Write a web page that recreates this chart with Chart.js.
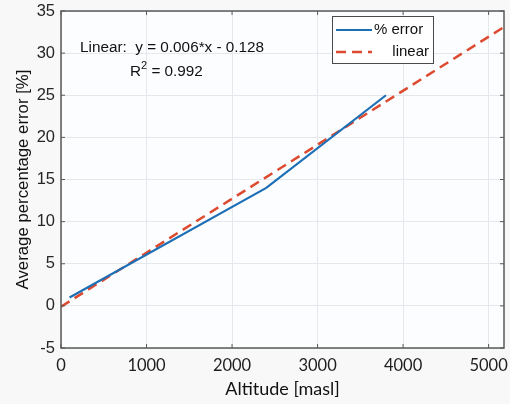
<!DOCTYPE html>
<html><head><meta charset="utf-8">
<script src="https://cdn.jsdelivr.net/npm/chart.js@4/dist/chart.umd.min.js"></script>
<style>
html,body{margin:0;padding:0;background:#f8f8f8;}
#wrap{width:510px;height:404px;}
</style></head>
<body><div id="wrap"><canvas id="c" width="510" height="404"></canvas></div>
<script>
// Data
const errorAltitude = [100, 2400, 3800];
const errorValues = [1, 14, 25];
const fitAltitude = [0, 5180];
const fitValues = [-0.1, 33.1];
const xTicks = [0, 1000, 2000, 3000, 4000, 5000];
const yTicks = [-5, 0, 5, 10, 15, 20, 25, 30, 35];
const seriesNames = ['% error', 'linear'];
const annotationLine1 = 'Linear:  y = 0.006*x - 0.128';
const annotationLine2 = ['R', '2', ' = 0.992'];

const BLUE = '#1c6fb5';
const RED = '#dc4a30';
const AXIS = '#5a5a5a';

const boxPlugin = {
  id: 'box',
  beforeDraw(chart) {
    const {ctx, chartArea: a} = chart;
    ctx.save();
    ctx.fillStyle = '#fcfdff';
    ctx.fillRect(a.left, a.top, a.right - a.left, a.bottom - a.top);
    ctx.restore();
  },
  afterDatasetsDraw(chart) {
    const {ctx, chartArea: a, scales} = chart;
    ctx.save();
    ctx.strokeStyle = AXIS;
    ctx.lineWidth = 1.5;
    ctx.strokeRect(a.left, a.top, a.right - a.left, a.bottom - a.top);
    ctx.lineWidth = 1;
    const tl = 4;
    xTicks.forEach(v => {
      const x = scales.x.getPixelForValue(v);
      ctx.beginPath();
      ctx.moveTo(x, a.bottom); ctx.lineTo(x, a.bottom - tl);
      ctx.moveTo(x, a.top); ctx.lineTo(x, a.top + tl);
      ctx.stroke();
    });
    yTicks.forEach(v => {
      const y = scales.y.getPixelForValue(v);
      ctx.beginPath();
      ctx.moveTo(a.left, y); ctx.lineTo(a.left + tl, y);
      ctx.moveTo(a.right, y); ctx.lineTo(a.right - tl, y);
      ctx.stroke();
    });
    // legend
    const lx = a.left + 271, ly = a.top + 5, lw = 101, lh = 47;
    ctx.fillStyle = '#ffffff';
    ctx.fillRect(lx, ly, lw, lh);
    ctx.strokeStyle = '#4a4a4a';
    ctx.lineWidth = 1;
    ctx.strokeRect(lx + 0.5, ly + 0.5, lw, lh);
    ctx.lineWidth = 2.2;
    ctx.strokeStyle = BLUE;
    ctx.beginPath(); ctx.moveTo(lx + 4, ly + 14); ctx.lineTo(lx + 40, ly + 14); ctx.stroke();
    ctx.strokeStyle = RED;
    ctx.lineWidth = 2.5;
    ctx.setLineDash([10, 6]);
    ctx.beginPath(); ctx.moveTo(lx + 4, ly + 36); ctx.lineTo(lx + 40, ly + 36); ctx.stroke();
    ctx.setLineDash([]);
    ctx.fillStyle = '#111';
    ctx.font = '15px "Liberation Sans", Arial, sans-serif';
    ctx.textBaseline = 'middle';
    ctx.textAlign = 'left';
    ctx.fillText(seriesNames[0], lx + 42, ly + 14);
    ctx.textAlign = 'right';
    ctx.fillText(seriesNames[1], lx + lw - 4, ly + 36);
    // annotation
    ctx.textAlign = 'left';
    ctx.font = '15.3px "Liberation Sans", Arial, sans-serif';
    ctx.fillText(annotationLine1, a.left + 19, a.top + 37);
    let x = a.left + 69, y = a.top + 61;
    ctx.fillText(annotationLine2[0], x, y);
    x += ctx.measureText(annotationLine2[0]).width;
    ctx.font = '11px "Liberation Sans", Arial, sans-serif';
    ctx.fillText(annotationLine2[1], x, y - 6);
    x += ctx.measureText(annotationLine2[1]).width;
    ctx.font = '15.3px "Liberation Sans", Arial, sans-serif';
    ctx.fillText(annotationLine2[2], x, y);
    ctx.restore();
  }
};

new Chart(document.getElementById('c'), {
  type: 'line',
  data: {
    datasets: [
      {label: seriesNames[0], data: errorAltitude.map((x, i) => ({x, y: errorValues[i]})),
       borderColor: BLUE, borderWidth: 2.2, pointRadius: 0, tension: 0, fill: false},
      {label: seriesNames[1], data: fitAltitude.map((x, i) => ({x, y: fitValues[i]})),
       borderColor: RED, borderWidth: 2.5, borderDash: [10, 6], pointRadius: 0, tension: 0, fill: false}
    ]
  },
  options: {
    responsive: false,
    animation: false,
    devicePixelRatio: 1,
    layout: {padding: {left: 0, right: 6, top: 11, bottom: 0}},
    plugins: {legend: {display: false}, tooltip: {enabled: false}},
    scales: {
      x: {
        type: 'linear', min: 0, max: 5180,
        afterBuildTicks: s => { s.ticks = xTicks.map(v => ({value: v})); },
        afterFit: s => { s.height = 56; s.paddingRight = 0; s.paddingLeft = 0; },
        ticks: {font: {family: 'Lato', size: 16.5}, color: '#1e1e1e', padding: 8, maxRotation: 0,
                callback: v => String(v)},
        grid: {color: '#e4e7eb', drawTicks: false},
        border: {display: false},
        title: {display: true, text: 'Altitude [masl]', font: {family: 'Lato', size: 18}, color: '#111', padding: {top: 2}}
      },
      y: {
        type: 'linear', min: -5, max: 35,
        afterBuildTicks: s => { s.ticks = yTicks.map(v => ({value: v})); },
        afterFit: s => { s.width = 61; s.paddingTop = 0; s.paddingBottom = 0; },
        ticks: {font: {family: 'Liberation Sans', size: 16.5}, color: '#262626', padding: 6,
                callback: v => String(v)},
        grid: {color: '#e4e7eb', drawTicks: false},
        border: {display: false},
        title: {display: true, text: 'Average percentage error [%]', font: {family: 'Liberation Sans', size: 16.8}, color: '#111', padding: {top: 13}}
      }
    }
  },
  plugins: [boxPlugin]
});
</script>
</body></html>
